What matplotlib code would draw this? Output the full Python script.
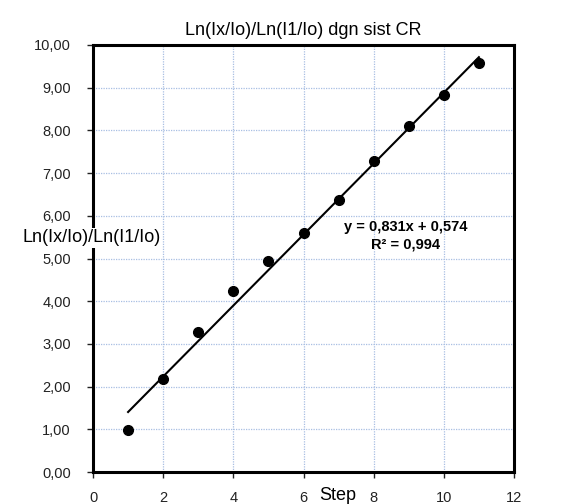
import numpy as np
import matplotlib.pyplot as plt
from matplotlib.ticker import MultipleLocator, FuncFormatter

plt.rcParams['font.family'] = ['Liberation Sans', 'DejaVu Sans']

# data
steps = [1, 2, 3, 4, 5, 6, 7, 8, 9, 10, 11]
ratio = [0.99, 2.18, 3.27, 4.24, 4.93, 5.59, 6.37, 7.28, 8.11, 8.84, 9.58]
slope, intercept = 0.831, 0.574
r2 = 0.994

fig = plt.figure(figsize=(5.66, 5.04), dpi=100)
ax = fig.add_axes([93 / 566, 32 / 504, 421 / 566, 427 / 504])

xfit = np.array([steps[0], steps[-1]])
ax.plot(xfit, slope * xfit + intercept, color="black", linewidth=1.5, zorder=3)
ax.plot(steps, ratio, "o", color="black", markersize=7, zorder=4)

ax.set_xlim(0, 12)
ax.set_ylim(0, 10)
ax.xaxis.set_major_locator(MultipleLocator(2))
ax.yaxis.set_major_locator(MultipleLocator(1))
ax.yaxis.set_major_formatter(FuncFormatter(lambda v, p: f"{v:.2f}".replace(".", ",")))
ax.grid(True, color="#a8bfe3", linestyle=(0, (1, 1)), linewidth=0.9)
ax.set_axisbelow(True)
for s in ax.spines.values():
    s.set_linewidth(2.2)
ax.tick_params(direction="out", length=4, width=1, labelsize=10.5, colors="#222222")
ax.tick_params(axis="x", pad=10)
ax.tick_params(axis="y", pad=12)

ax.set_title("Ln(Ix/Io)/Ln(I1/Io) dgn sist CR", fontsize=13, pad=7)

fig.text(22 / 566, 1 - 238 / 504, "Ln(Ix/Io)/Ln(I1/Io)", fontsize=13, ha="left",
         va="center", bbox=dict(facecolor="white", edgecolor="none", pad=1), zorder=10)
fig.text(338 / 566, 1 - 495 / 504, "Step", fontsize=13, ha="center", va="center")

ax.text(8.92, 5.74, f"y = {slope:.3f}x + {intercept:.3f}".replace(".", ","),
        fontsize=10.5, fontweight="bold", ha="center", va="center")
ax.text(8.92, 5.32, f"R² = {r2:.3f}".replace(".", ","),
        fontsize=10.5, fontweight="bold", ha="center", va="center")

fig.savefig("out.png", dpi=100)
